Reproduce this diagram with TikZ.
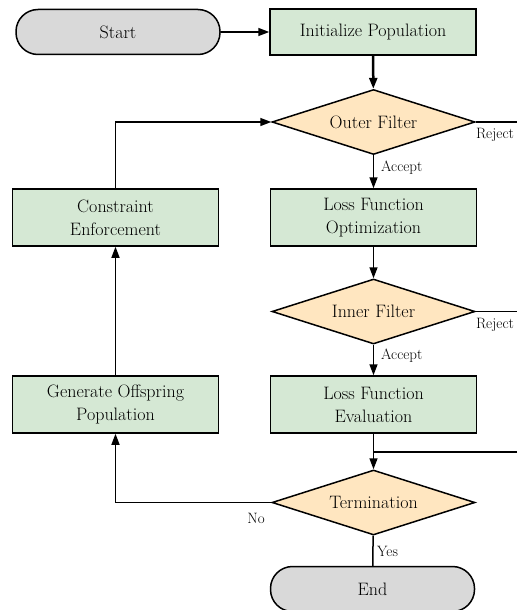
\documentclass[tikz,border=0pt]{standalone}
\usetikzlibrary{shapes.geometric,arrows.meta}
\definecolor{boxgreen}{HTML}{D5E8D4}
\definecolor{decorange}{HTML}{FFE6C0}
\definecolor{termgray}{HTML}{D9D9D9}
\tikzset{
  procbox/.style={draw=black, line width=1.5pt, fill=boxgreen, minimum width=206pt, minimum height=57pt, align=center, font=\fontsize{18}{23}\selectfont, inner sep=0pt},
  decbox/.style={draw=black, line width=1.5pt, fill=decorange, diamond, aspect=3, minimum width=203pt, minimum height=65pt, inner sep=0pt, font=\fontsize{18}{22}\selectfont},
  termbox/.style={draw=black, line width=1.5pt, fill=termgray, rounded corners=22pt, minimum width=204pt, minimum height=45pt, font=\fontsize{18}{22}\selectfont, inner sep=0pt},
  flow/.style={draw=black, line width=1.5pt, -{Triangle[length=11pt,width=8pt]}},
  plain/.style={draw=black, line width=1.5pt},
  lbl/.style={font=\fontsize{15}{17}\selectfont, inner sep=0pt}
}
\begin{document}
\begin{tikzpicture}[x=1pt,y=-1pt]
\useasboundingbox (0,0) rectangle (517,610);
\node[termbox] (start) at (118,32) {Start};
\node[procbox, minimum height=46pt] (init) at (373,32) {Initialize Population};
\node[decbox] (outer) at (373.5,122) {Outer Filter};
\node[procbox] (lfo) at (373.5,217.5) {Loss Function\\Optimization};
\node[decbox] (inner) at (373.5,311.5) {Inner Filter};
\node[procbox] (lfe) at (373.5,404.5) {Loss Function\\Evaluation};
\node[decbox] (term) at (373.5,502.5) {Termination};
\node[termbox] (end) at (372.5,589) {End};
\node[procbox] (cons) at (115.5,217.5) {Constraint\\Enforcement};
\node[procbox] (gen) at (115.5,404.5) {Generate Offspring\\Population};

\coordinate (rej1) at (517,122);
\coordinate (rej2) at (517,311.5);
\coordinate (back) at (517,452);
\coordinate (join) at (373.5,452);

\draw[flow] (start) -- (init);
\draw[flow, line width=2.5pt] (init) -- (outer);
\draw[flow] (outer) -- (lfo);
\draw[flow] (lfo) -- (inner);
\draw[flow] (inner) -- (lfe);
\draw[flow] (lfe) -- (term);
\draw[plain] (term) -- (end);
\draw[plain] (outer.east) -- (rej1);
\draw[plain] (inner.east) -- (rej2);
\draw[plain] (back) -- (join);
\draw[flow] (term.west) -| (gen.south);
\draw[flow] (gen) -- (cons);
\draw[flow] (cons.north) |- (outer.west);

\node[lbl] (r1) at (495,135) {Reject};
\node[lbl] (r2) at (495,325) {Reject};
\node[lbl, anchor=west] (a1) at (381,168) {Accept};
\node[lbl, anchor=west] (a2) at (381,356) {Accept};
\node[lbl] (no) at (256,518) {No};
\node[lbl, anchor=west] (yes) at (377,551) {Yes};
\end{tikzpicture}
\end{document}
